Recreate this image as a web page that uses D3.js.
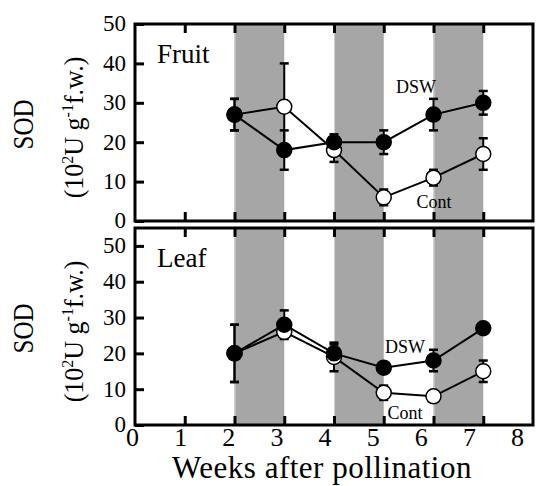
<!DOCTYPE html>
<html><head><meta charset="utf-8">
<script src="https://cdn.jsdelivr.net/npm/d3@7"></script>
<style>
html,body{margin:0;padding:0;background:#fff;}
svg{display:block;}
text{font-family:'Liberation Serif','Times New Roman','DejaVu Serif',serif;}
</style></head>
<body>
<svg id="chart" width="539" height="486"></svg>
<script>
// ---- data ----
const weeks = [2, 3, 4, 5, 6, 7];
const fruitDSW = [27, 18, 20, 20, 27, 30];
const fruitDSWErr = [4, 5, 2, 3, 4, 3];
const fruitCont = [27, 29, 18, 6, 11, 17];
const fruitContErr = [4, 11, 3, 2, 2, 4];
const leafDSW = [20, 28, 20, 16, 18, 27];
const leafDSWErr = [8, 4, 2.5, 1, 3, 0];
const leafCont = [20, 26, 19, 9, 8, 15];
const leafContErr = [8, 1, 4, 2, 1, 3];
const bands = [[2, 3], [4, 5], [6, 7]];
const yTicks = [0, 10, 20, 30, 40, 50];
const xTicks = [0, 1, 2, 3, 4, 5, 6, 7, 8];
const innerXTicks = [1, 2, 3, 4, 5, 6, 7];
const panelNames = ["Fruit", "Leaf"];
const seriesNames = ["DSW", "Cont"];
const xLabel = "Weeks after pollination";

const FONT = "Liberation Serif, Times New Roman, DejaVu Serif, serif";
const svg = d3.select("#chart").attr("font-family", FONT);
const x = d3.scaleLinear().domain([0, 8]).range([135, 533]);
const xLab = d3.scaleLinear().domain([0, 8]).range([132, 517]);

const panels = [
  {name: panelNames[0], y: d3.scaleLinear().domain([0, 50]).range([221, 24]),
   dsw: fruitDSW, dswE: fruitDSWErr, cont: fruitCont, contE: fruitContErr,
   nameY: 63, dswLab: [416, 93], contLab: [434, 208], showX: false},
  {name: panelNames[1], y: d3.scaleLinear().domain([0, 55]).range([425, 228]),
   dsw: leafDSW, dswE: leafDSWErr, cont: leafCont, contE: leafContErr,
   nameY: 267, dswLab: [405, 353], contLab: [405, 419], showX: true}
];

panels.forEach(p => {
  const y = p.y;
  const g = svg.append("g");
  const [y0, y1] = y.range();
  // shaded bands
  g.selectAll("rect.band").data(bands).join("rect")
    .attr("x", d => x(d[0])).attr("width", d => x(d[1]) - x(d[0]))
    .attr("y", y1).attr("height", y0 - y1)
    .attr("fill", "#a6a6a6");
  g.selectAll("line.bandedge").data(bands).join("line")
    .attr("x1", d => x(d[0]) + 0.5).attr("x2", d => x(d[0]) + 0.5)
    .attr("y1", y1).attr("y2", y0).attr("stroke", "#cfcfcf").attr("stroke-width", 1);

  // axes ticks (inward)
  const left = g.append("g").attr("transform", `translate(${x(0)},0)`)
    .call(d3.axisLeft(y).tickValues(yTicks).tickSizeInner(-9).tickSizeOuter(0).tickPadding(9));
  left.attr("font-family", FONT);
  left.select(".domain").remove();
  left.selectAll("line").attr("stroke", "#000").attr("stroke-width", 3);
  left.selectAll("text").attr("font-size", 23).attr("fill", "#000")
    .attr("font-family", FONT).attr("dy", "0.30em");

  const top = g.append("g").attr("transform", `translate(0,${y1})`)
    .call(d3.axisTop(x).tickValues(innerXTicks).tickSizeInner(-9).tickSizeOuter(0).tickFormat(""));
  top.select(".domain").remove();
  top.selectAll("line").attr("stroke", "#000").attr("stroke-width", 3);

  const bot = g.append("g").attr("transform", `translate(0,${y0})`)
    .call(d3.axisBottom(x).tickValues(innerXTicks).tickSizeInner(-9).tickSizeOuter(0).tickFormat(""));
  bot.select(".domain").remove();
  bot.selectAll("line").attr("stroke", "#000").attr("stroke-width", 3);

  // frame
  g.append("rect").attr("x", x(0)).attr("y", y1)
    .attr("width", x(8) - x(0)).attr("height", y0 - y1)
    .attr("fill", "none").attr("stroke", "#000").attr("stroke-width", 3);

  // lines
  const line = d3.line().x((d, i) => x(weeks[i])).y(d => y(d));
  [p.dsw, p.cont].forEach(s => {
    g.append("path").datum(s).attr("d", line)
      .attr("fill", "none").attr("stroke", "#000").attr("stroke-width", 2);
  });

  // error bars
  const eb = (vals, errs) => {
    vals.forEach((v, i) => {
      if (!errs[i]) return;
      const cx = x(weeks[i]);
      g.append("line").attr("x1", cx).attr("x2", cx)
        .attr("y1", y(v - errs[i])).attr("y2", y(v + errs[i]))
        .attr("stroke", "#000").attr("stroke-width", 2);
      [v - errs[i], v + errs[i]].forEach(e => {
        g.append("line").attr("x1", cx - 4.5).attr("x2", cx + 4.5)
          .attr("y1", y(e)).attr("y2", y(e))
          .attr("stroke", "#000").attr("stroke-width", 2.5);
      });
    });
  };
  eb(p.cont, p.contE);
  eb(p.dsw, p.dswE);

  // markers
  g.selectAll("circle.cont").data(p.cont).join("circle")
    .attr("cx", (d, i) => x(weeks[i])).attr("cy", d => y(d)).attr("r", 7.5)
    .attr("fill", "#fff").attr("stroke", "#000").attr("stroke-width", 1.5);
  g.selectAll("circle.dsw").data(p.dsw).join("circle")
    .attr("cx", (d, i) => x(weeks[i])).attr("cy", d => y(d)).attr("r", 7.5)
    .attr("fill", "#000").attr("stroke", "#000").attr("stroke-width", 1.5);

  // texts
  g.append("text").attr("x", 157).attr("y", p.nameY).attr("font-size", 27).text(p.name);
  g.append("text").attr("x", p.dswLab[0]).attr("y", p.dswLab[1]).attr("font-size", 18)
    .attr("text-anchor", "middle").text(seriesNames[0]);
  g.append("text").attr("x", p.contLab[0]).attr("y", p.contLab[1]).attr("font-size", 18)
    .attr("text-anchor", "middle").text(seriesNames[1]);

  // y axis title
  const cy = (y0 + y1) / 2 + 2;
  g.append("text").attr("transform", `translate(33,${cy}) rotate(-90) scale(1,1.15)`)
    .attr("text-anchor", "middle").attr("font-size", 25).text("SOD");
  const t2 = g.append("text").attr("transform", `translate(83,${cy + 3}) rotate(-90) scale(1,1.05)`)
    .attr("text-anchor", "middle").attr("font-size", 26);
  t2.append("tspan").text("(10");
  t2.append("tspan").attr("dy", -10).attr("font-size", 16).text("2");
  t2.append("tspan").attr("dy", 10).text("U g");
  t2.append("tspan").attr("dy", -10).attr("font-size", 16).text("-1");
  t2.append("tspan").attr("dy", 10).text("f.w.)");

  if (p.showX) {
    const xa = svg.append("g").attr("transform", `translate(0,${y0})`)
      .call(d3.axisBottom(xLab).tickValues(xTicks).tickSize(0).tickPadding(0));
    xa.attr("font-family", FONT);
    xa.select(".domain").remove();
    xa.selectAll("text").attr("font-size", 26).attr("fill", "#000")
      .attr("font-family", FONT).attr("dy", 0).attr("y", 21);
  }
});

svg.append("text").attr("x", 322).attr("y", 478).attr("text-anchor", "middle")
  .attr("font-size", 31).attr("letter-spacing", 0.5).text(xLabel);
</script>
</body></html>
